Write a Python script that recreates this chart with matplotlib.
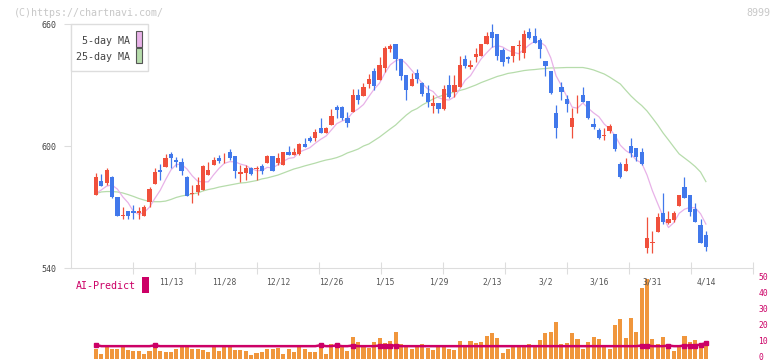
import matplotlib
matplotlib.use('Agg')
import matplotlib.pyplot as plt
from matplotlib.patches import Rectangle
from matplotlib.transforms import ScaledTranslation
import numpy as np

# daily candles (oldest first)
opens = [575.9, 582.9, 581.7, 584.9, 574.8, 565.5, 568.0, 568.0, 566.9, 565.7,
         572.3, 581.5, 588.2, 589.8, 596.1, 593.1, 592.0, 584.9, 576.6, 577.5,
         578.4, 585.7, 590.7, 594.1, 592.9, 597.2, 595.1, 586.1, 586.9, 589.3,
         588.8, 590.2, 591.8, 595.1, 591.8, 590.7, 596.9, 595.6, 595.9, 601.0,
         603.8, 603.8, 608.9, 606.5, 610.3, 619.3, 619.3, 613.6, 616.9, 625.1,
         624.7, 630.5, 636.9, 632.5, 638.5, 647.7, 650.2, 642.8, 634.9, 629.7,
         636.0, 631.1, 626.0, 619.8, 621.0, 618.0, 630.0, 626.7, 629.2, 642.8,
         638.7, 643.9, 644.4, 650.2, 655.9, 655.1, 647.2, 643.9, 644.4, 649.0,
         645.9, 656.2, 654.1, 652.1, 641.8, 636.9, 616.1, 629.2, 623.1, 609.5,
         622.9, 625.1, 622.1, 610.8, 607.9, 604.8, 607.4, 605.9, 591.1, 587.9,
         600.0, 598.9, 596.9, 549.7, 552.5, 557.9, 566.9, 562.0, 563.6, 570.6,
         579.7, 575.9, 568.9, 561.1, 556.2]
highs = [586.6, 586.2, 589.0, 585.2, 575.0, 570.1, 568.2, 570.8, 570.1, 570.8,
         580.0, 589.0, 591.1, 595.9, 597.1, 594.7, 594.0, 585.2, 580.8, 584.8,
         590.5, 592.3, 594.7, 595.6, 596.4, 598.4, 595.3, 590.7, 590.7, 589.6,
         590.2, 591.1, 595.4, 595.3, 596.4, 597.1, 600.0, 599.2, 601.5, 603.8,
         605.1, 608.2, 613.6, 609.1, 618.2, 620.2, 619.5, 616.6, 628.0, 628.0,
         631.1, 635.3, 638.2, 643.9, 649.3, 650.2, 650.4, 643.0, 635.1, 636.0,
         637.7, 631.3, 630.0, 625.1, 621.2, 630.0, 634.9, 634.9, 644.3, 644.8,
         642.3, 648.0, 650.4, 656.2, 660.0, 655.3, 648.0, 644.1, 649.4, 652.1,
         657.0, 657.9, 657.9, 653.3, 642.0, 637.1, 620.2, 631.3, 625.1, 618.5,
         625.1, 629.2, 622.3, 613.6, 608.7, 608.7, 610.8, 606.1, 592.0, 594.2,
         603.8, 599.1, 598.9, 564.9, 558.2, 566.9, 577.0, 568.0, 568.0, 576.1,
         584.6, 576.1, 571.8, 564.0, 558.2]
lows = [575.9, 580.5, 581.0, 574.5, 565.5, 564.0, 564.0, 564.0, 564.0, 565.5,
        570.1, 581.3, 583.3, 589.6, 589.0, 589.8, 585.7, 575.4, 572.1, 575.9,
        578.2, 585.5, 590.5, 591.5, 591.5, 593.1, 584.4, 582.4, 583.3, 585.9,
        583.3, 586.1, 591.6, 587.7, 590.7, 590.5, 595.4, 595.4, 595.7, 599.5,
        601.8, 602.5, 606.3, 606.3, 610.1, 613.6, 612.8, 609.5, 616.7, 620.7,
        624.5, 628.4, 627.5, 632.3, 636.5, 646.1, 637.4, 632.5, 622.6, 629.5,
        630.8, 624.5, 619.3, 616.1, 616.1, 617.8, 623.8, 624.0, 629.0, 638.2,
        637.7, 641.5, 644.2, 650.0, 648.8, 642.3, 639.5, 640.7, 641.5, 642.3,
        643.4, 652.8, 650.6, 643.4, 634.6, 625.8, 603.8, 622.6, 616.9, 603.8,
        616.1, 621.6, 613.4, 608.4, 603.6, 603.0, 606.5, 597.5, 584.4, 587.7,
        594.7, 592.8, 590.8, 547.5, 547.5, 557.7, 561.6, 561.8, 562.8, 570.4,
        574.4, 565.7, 562.6, 552.2, 548.5]
closes = [584.9, 580.5, 588.2, 574.8, 565.7, 565.9, 565.7, 566.9, 568.0, 570.1,
          578.7, 587.2, 587.1, 594.0, 594.0, 592.0, 587.9, 575.6, 577.0, 580.8,
          590.2, 588.2, 593.1, 592.8, 593.2, 594.0, 587.9, 587.4, 589.3, 586.1,
          589.0, 587.9, 595.1, 587.9, 594.2, 596.9, 595.6, 596.9, 601.2, 599.7,
          602.5, 606.7, 606.5, 608.9, 614.8, 617.9, 613.6, 611.5, 625.1, 622.8,
          629.2, 633.0, 629.7, 639.8, 648.0, 649.2, 642.6, 634.6, 627.5, 632.8,
          632.8, 625.6, 621.8, 621.0, 618.0, 628.0, 624.0, 630.0, 639.8, 639.5,
          639.8, 645.1, 650.2, 654.2, 653.0, 644.4, 641.5, 642.6, 649.2, 649.3,
          655.1, 653.0, 650.8, 647.7, 639.5, 626.0, 608.7, 626.7, 620.7, 613.6,
          623.2, 621.8, 613.6, 609.5, 603.8, 605.1, 609.8, 598.5, 584.6, 591.1,
          596.7, 594.7, 591.0, 554.9, 552.7, 564.9, 562.8, 564.1, 566.9, 575.9,
          574.6, 567.7, 562.8, 552.4, 550.5]

ma5 = [576.6, 578.4, 580.3, 580.8, 578.8, 575.0, 572.1, 567.8, 566.4, 567.3,
       569.9, 574.2, 578.2, 583.4, 588.2, 590.9, 591.0, 588.7, 585.3, 582.7,
       582.3, 582.4, 585.9, 589.0, 591.5, 592.3, 592.2, 591.1, 590.4, 588.9,
       587.9, 587.9, 589.5, 589.2, 590.8, 592.4, 593.9, 594.3, 597.0, 598.1,
       599.2, 601.4, 603.3, 604.9, 607.9, 611.0, 612.3, 613.3, 616.6, 618.2,
       620.4, 624.3, 628.0, 630.9, 635.9, 639.9, 641.9, 642.8, 640.4, 637.3,
       634.1, 630.7, 628.1, 626.8, 623.8, 622.9, 622.6, 624.2, 628.0, 632.3,
       634.6, 638.8, 642.9, 645.8, 648.5, 649.4, 648.7, 647.1, 646.1, 645.4,
       647.5, 649.8, 651.5, 651.2, 649.2, 643.4, 634.5, 629.7, 624.3, 619.1,
       618.6, 621.2, 618.6, 616.3, 614.4, 610.8, 608.4, 605.3, 600.4, 597.8,
       596.1, 593.1, 591.6, 585.7, 578.0, 571.6, 565.3, 559.9, 562.3, 566.9,
       568.9, 569.8, 569.6, 566.7, 561.6]
ma25 = [576.6, 577.4, 577.6, 577.6, 577.4, 576.9, 576.1, 575.2, 574.2, 573.4,
        572.7, 572.6, 572.6, 572.9, 573.7, 574.7, 575.4, 575.9, 576.4, 576.9,
        577.9, 578.6, 579.1, 579.8, 580.3, 580.8, 581.3, 581.8, 582.0, 582.5,
        583.0, 583.8, 584.3, 585.0, 585.7, 586.7, 587.7, 588.7, 589.4, 590.2,
        590.9, 591.6, 592.4, 593.1, 593.6, 594.3, 595.3, 596.6, 597.5, 598.5,
        600.0, 601.0, 602.7, 604.4, 606.4, 608.4, 610.3, 612.8, 615.2, 617.2,
        618.4, 620.2, 621.6, 623.1, 624.2, 625.1, 625.8, 626.6, 627.3, 628.0,
        629.0, 630.0, 631.2, 632.2, 633.2, 634.2, 634.9, 635.7, 636.1, 636.6,
        637.1, 637.4, 637.6, 637.9, 638.1, 638.4, 638.4, 638.5, 638.6, 638.6,
        638.6, 638.6, 638.1, 637.4, 636.4, 635.4, 633.9, 632.2, 630.5, 627.5,
        624.6, 622.1, 619.9, 617.2, 613.8, 610.3, 606.4, 603.0, 599.5, 596.1,
        594.1, 592.1, 589.9, 587.2, 582.5]

volume = [6.3, 3.2, 7.4, 6.1, 6.5, 7.4, 5.7, 5.3, 5.3, 3.2,
          5.3, 7.1, 5.0, 4.4, 4.4, 6.1, 7.4, 7.4, 6.3, 6.3,
          5.9, 4.4, 7.4, 5.0, 7.4, 7.4, 5.9, 5.7, 4.8, 2.5,
          3.6, 4.4, 6.3, 6.3, 7.1, 3.4, 6.3, 4.6, 7.6, 6.3,
          4.6, 4.2, 7.8, 3.4, 9.2, 9.2, 7.8, 5.0, 13.9, 10.9,
          7.8, 7.1, 10.7, 13.2, 10.1, 11.5, 17.0, 9.2, 7.8, 6.3,
          8.0, 9.2, 7.1, 5.7, 7.8, 8.0, 6.3, 5.7, 11.1, 7.8,
          11.3, 10.1, 10.7, 14.3, 16.2, 13.0, 3.6, 6.3, 7.8, 8.0,
          7.8, 9.2, 7.8, 12.0, 16.4, 17.0, 23.3, 9.5, 10.1, 16.4,
          12.4, 6.3, 10.7, 13.7, 12.4, 7.8, 6.3, 21.4, 25.2, 13.2,
          25.8, 17.0, 44.7, 50.4, 12.6, 9.5, 13.9, 7.8, 5.0, 7.8,
          14.5, 10.7, 12.0, 9.2, 8.2]
ai_predict = [8.8, 8.1, 8.1, 8.1, 8.1, 8.1, 8.1, 8.1, 8.1, 8.1,
              8.1, 8.6, 8.1, 8.1, 8.1, 8.1, 8.1, 8.1, 8.1, 8.1,
              8.1, 8.1, 8.1, 8.1, 8.1, 8.1, 8.1, 8.1, 8.1, 8.1,
              8.1, 8.1, 8.1, 8.1, 8.1, 8.1, 8.1, 8.1, 8.1, 8.1,
              8.1, 8.1, 8.7, 8.1, 8.1, 8.6, 8.1, 8.1, 8.5, 8.1,
              8.1, 8.1, 8.1, 8.5, 8.5, 8.5, 8.5, 8.1, 8.1, 8.1,
              8.1, 8.1, 8.1, 8.1, 8.1, 8.1, 8.1, 8.1, 8.1, 8.1,
              8.1, 8.1, 8.1, 8.1, 8.1, 8.1, 8.1, 8.1, 8.1, 8.1,
              8.1, 8.1, 8.1, 8.1, 8.1, 8.1, 8.1, 8.1, 8.1, 8.1,
              8.1, 8.1, 8.1, 8.1, 8.1, 8.1, 8.1, 8.1, 8.1, 8.1,
              8.1, 8.1, 8.5, 8.5, 8.1, 8.1, 8.1, 8.5, 8.1, 8.1,
              8.5, 8.5, 8.5, 9.1, 9.9]

date_labels = ['11/13', '11/28', '12/12', '12/26', '1/15', '1/29',
               '2/13', '3/2', '3/16', '3/31', '4/14']
date_index = [14, 24, 34, 44, 54, 64, 74, 84, 94, 104, 114]
price_ticks = [540, 600, 660]
vol_ticks = [0, 10, 20, 30, 40, 50]

RED = '#f0503c'
BLUE = '#4178eb'
PINK = '#e8b2e8'
GREEN = '#b6dcab'
ORANGE = '#f0963c'
MAGENTA = '#cc0066'
MONO = 'DejaVu Sans Mono'

W, H = 772, 361


def fx(x):
    return x / W


def fy(y):
    return 1 - y / H


fig = plt.figure(figsize=(W / 100, H / 100), dpi=100)
fig.patch.set_facecolor('white')

# volume panel first, so the price panel's date labels sit on top
ax2 = fig.add_axes([fx(70.7), fy(359), 682 / W, 82.5 / H])
ax2.patch.set_visible(False)

# price panel
ax = fig.add_axes([fx(70.7), fy(268), 682 / W, 244 / H])
ax.patch.set_visible(False)
xs = np.arange(len(closes))
o = np.array(opens)
c = np.array(closes)
cols = np.where(c >= o, RED, BLUE)

ax.plot(xs, ma25, color=GREEN, lw=0.9, zorder=1)
ax.plot(xs, ma5, color=PINK, lw=0.9, zorder=1)
ax.vlines(xs, lows, highs, colors=cols, lw=0.9, zorder=2)
ax.bar(xs, np.maximum(np.abs(c - o), 0.45), bottom=np.minimum(o, c),
       width=0.8, color=cols, linewidth=0, zorder=3)

x_lo, x_hi = (70.7 - 96) / 5.35, (752.7 - 96) / 5.35
ax.set_xlim(x_lo, x_hi)
ax.set_ylim(540, 660)
for s in ['top', 'right']:
    ax.spines[s].set_visible(False)
for s in ['left', 'bottom']:
    ax.spines[s].set_color('#dddddd')
ax.set_yticks(price_ticks)
ax.set_yticklabels([str(v) for v in price_ticks], fontsize=6, family=MONO, color='#444444')
ax.tick_params(axis='y', length=5, color='#dddddd', pad=5)
ax.set_xticks([x_lo + k * 62 / 5.35 for k in range(1, 12)])
ax.tick_params(axis='x', direction='inout', length=8, color='#dddddd', labelbottom=False)
for i, lab in zip(date_index, date_labels):
    ax.text(i, -14.3 / 244, lab, transform=ax.get_xaxis_transform(),
            ha='center', va='center', fontsize=5.8, family=MONO, color='#555555')

ax2.bar(xs, volume, width=0.75, color=ORANGE, linewidth=0)
ai = np.array(ai_predict)
marks = [i for i in range(len(ai)) if abs(ai[i] - 8.1) > 0.05]
ax2.plot(xs, ai, color=MAGENTA, lw=1.8, marker='s', ms=3.2, markevery=marks)
ax2.set_xlim(x_lo, x_hi)
ax2.set_ylim(0, 52)
for s in ax2.spines.values():
    s.set_visible(False)
ax2.set_xticks([])
ax2.yaxis.tick_right()
ax2.set_yticks(vol_ticks)
ax2.set_yticklabels([str(v) for v in vol_ticks], fontsize=5.8, family=MONO, color=MAGENTA)
ax2.tick_params(axis='y', length=0, pad=4)
lift = ScaledTranslation(0, 2.0 / 72, fig.dpi_scale_trans)
for t in ax2.get_yticklabels():
    t.set_transform(t.get_transform() + lift)

# legend box
fig.add_artist(Rectangle((fx(70.7), fy(71)), 77.3 / W, 47 / H, transform=fig.transFigure,
                         facecolor='white', edgecolor='#dddddd', lw=1, zorder=5))
fig.text(fx(129.5), fy(40.7), '5-day MA', ha='right', va='center', fontsize=7.2,
         family=MONO, color='#444444', zorder=6)
fig.text(fx(129.5), fy(56.7), '25-day MA', ha='right', va='center', fontsize=7.2,
         family=MONO, color='#444444', zorder=6)
fig.add_artist(Rectangle((fx(136.3), fy(46.7)), 6 / W, 15.5 / H, transform=fig.transFigure,
                         facecolor=PINK, edgecolor='#555555', lw=0.8, zorder=6))
fig.add_artist(Rectangle((fx(136.3), fy(63.3)), 6 / W, 15 / H, transform=fig.transFigure,
                         facecolor=GREEN, edgecolor='#555555', lw=0.8, zorder=6))

# AI-Predict label
fig.text(fx(76), fy(286), 'AI-Predict', ha='left', va='center', fontsize=7.2,
         family=MONO, color=MAGENTA)
fig.add_artist(Rectangle((fx(142.3), fy(292.7)), 6.4 / W, 16 / H, transform=fig.transFigure,
                         facecolor=MAGENTA, edgecolor='none'))

fig.text(fx(14), fy(12.7), '(C)https://chartnavi.com/', ha='left', va='center',
         fontsize=7.2, family=MONO, color='#c8c8c8')
fig.text(fx(770), fy(12.7), '8999', ha='right', va='center',
         fontsize=7.2, family=MONO, color='#c8c8c8')

fig.savefig('out.png', dpi=100)
